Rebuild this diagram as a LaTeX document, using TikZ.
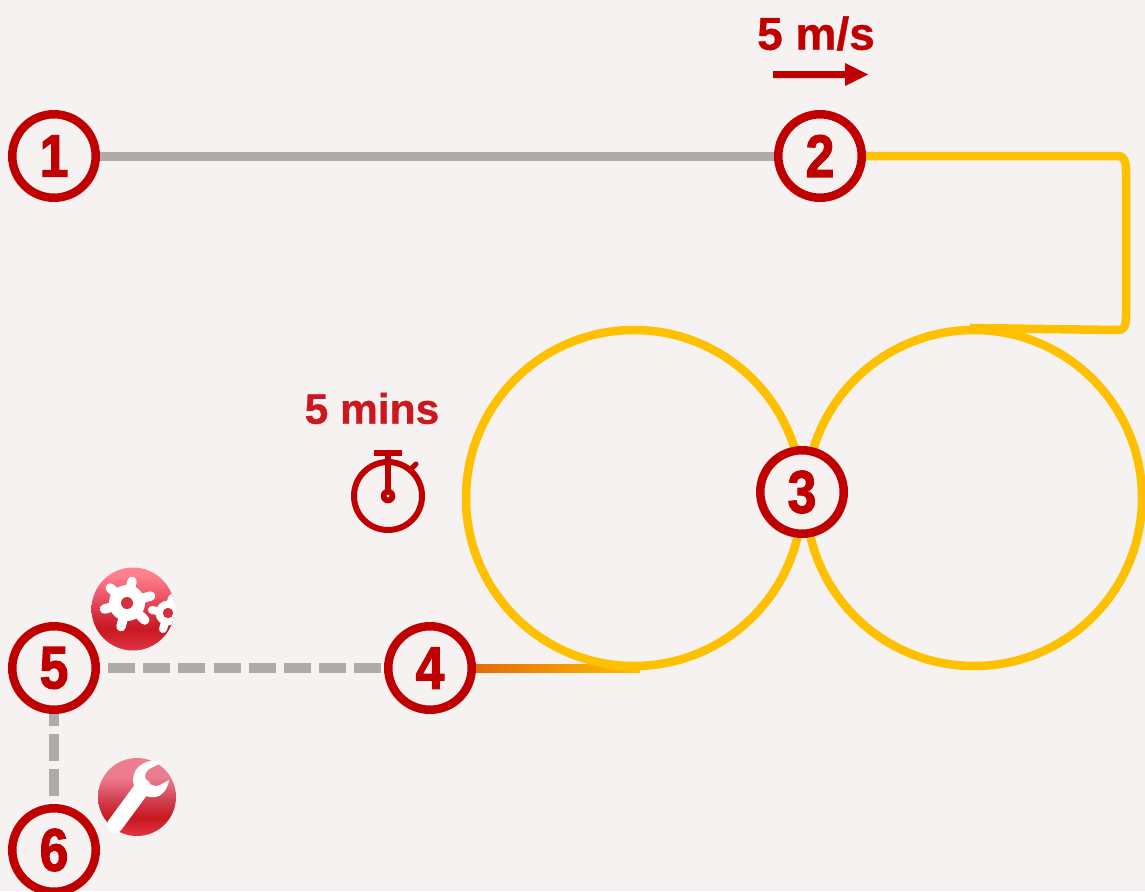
\documentclass[tikz,border=0pt]{standalone}
\usepackage{fontspec}
\setmainfont{Liberation Sans}
\newfontfamily\numfont[FakeStretch=0.86,BoldFeatures={FakeStretch=0.86,FakeBold=2}]{Liberation Sans}
\newfontfamily\labelfont[BoldFeatures={FakeBold=0.8}]{Liberation Sans}
\definecolor{bgc}{HTML}{F6F2F1}
\definecolor{redc}{HTML}{C00000}
\definecolor{labelred}{HTML}{CB171E}
\definecolor{greyc}{HTML}{AFABAB}
\definecolor{yel}{HTML}{FFC000}
\definecolor{orangec}{HTML}{E36C09}
\definecolor{icbot}{HTML}{E03545}
\definecolor{icdark}{HTML}{C8181F}
\definecolor{icmid}{HTML}{D02030}
\definecolor{gearup}{HTML}{FF7F8E}
\definecolor{geartop}{HTML}{FF8392}
\definecolor{wrmid}{HTML}{D04050}
\definecolor{wrup}{HTML}{EC7A8C}
\definecolor{wrtop}{HTML}{EC7F90}
\definecolor{hole}{HTML}{D43040}
\pgfdeclareverticalshading{gearshade}{100bp}{
  color(0bp)=(icbot); color(25bp)=(icbot); color(38bp)=(icdark); color(42bp)=(icmid);
  color(70bp)=(gearup); color(75bp)=(geartop); color(100bp)=(geartop)}
\pgfdeclareverticalshading{wrenchshade}{100bp}{
  color(0bp)=(icbot); color(25bp)=(icbot); color(37bp)=(icdark); color(48bp)=(wrmid);
  color(62bp)=(wrup); color(75bp)=(wrtop); color(100bp)=(wrtop)}
\pgfdeclarelayer{under}
\pgfsetlayers{under,main}
\tikzset{
  x=1pt,y=-1pt,
  stopnode/.style={circle,draw=redc,line width=8.5pt,fill=bgc,minimum size=83.5pt,inner sep=0pt,
    text=redc,font=\numfont\bfseries\fontsize{60}{60}\selectfont},
  solidgrey/.style={draw=greyc,line width=9pt},
  dashgrey/.style={draw=greyc,line width=10pt,dash pattern=on 27pt off 8.2pt},
  track/.style={draw=yel,line width=8.5pt},
  iconwhite/.style={fill=white,draw=none},
  spoke/.style={draw=white,line width=9.5pt,line cap=round},
  smallspoke/.style={draw=white,line width=8pt,line cap=round},
  watch/.style={draw=redc,line width=6pt},
  biglabel/.style={font=\labelfont\bfseries\fontsize{46}{46}\selectfont,text=redc,inner sep=0pt},
  minlabel/.style={font=\labelfont\bfseries\fontsize{42.5}{43}\selectfont,text=labelred,inner sep=0pt}
}
\begin{document}
\begin{tikzpicture}
\useasboundingbox (0,0) rectangle (1145,891);
\clip (0,0) rectangle (1145,891);

\coordinate (c1) at (634,498);
\coordinate (c2) at (974,498);
\coordinate (loopend) at (970,328);
\coordinate (trackend) at (640,672);

\node[stopnode] (n1) at (54,156) {1};
\node[stopnode] (n2) at (820,156) {2};
\node[stopnode] (n3) at (802,492) {3};
\node[stopnode] (n4) at (430,668) {4};
\node[stopnode] (n5) at (54,668) {5};
\node[stopnode] (n6) at (54,850) {6};

\begin{pgfonlayer}{under}
\fill[bgc] (0,0) rectangle (1145,891);
\draw[solidgrey] (n1.east) -- (n2.west);
\draw[dashgrey,shorten <=8pt] (n5.east) -- (n4.west);
\draw[dashgrey,shorten <=8pt] (n6.north) -- (n5.south);
\shade[left color=orangec,right color=yel] ([yshift=4pt]n4.east) rectangle (trackend);
\draw[track,line join=round] (n2.east) -- (1117,156)
   .. controls (1124,156) and (1126,160) .. (1126,172)
   -- (1126,315)
   .. controls (1126,327) and (1124,330) .. (1117,330)
   -- (loopend);
\draw[track] (c1) circle[radius=168];
\draw[track] (c2) circle[radius=168];
\end{pgfonlayer}

% speed label
\node[biglabel] (speed) at (816,33.5) {5 m/s};
\fill[redc] (773,71) -- (845,71) -- (845,63) -- (868,74.5) -- (845,86) -- (845,78) -- (773,78) -- cycle;

% timer label and stopwatch
\node[minlabel] (mins) at (372,408.5) {5 mins};
\draw[watch] (388,496) circle[radius=34];
\fill[redc] (374,450) rectangle (402,456);
\fill[redc] (384.7,453) rectangle (391.3,496);
\fill[redc] (388,496) circle[radius=7.3];
\fill[bgc] (388,496) circle[radius=1.7];
\draw[watch,line width=5pt,line cap=round] (412,468) -- (416,464);

% gear icon
\begin{scope}
  \clip (133,609) circle[radius=41.5];
  \shade[shading=gearshade] (133,609) circle[radius=41.5];
  \foreach \ex/\ey in {132/581.4,110.3/588,150.6/596,104.4/609,144.7/620,121/626.6}
    \draw[spoke] (127,603) -- (\ex,\ey);
  \fill[iconwhite] (127,603) circle[radius=18];
  \fill[hole] (127,603) circle[radius=6];
  \foreach \ex/\ey in {152/610,172/598,163/629,178/605}
    \draw[smallspoke] (168,613) -- (\ex,\ey);
  \fill[iconwhite] (168,613) circle[radius=12.5];
  \fill[hole] (168,613) circle[radius=5.2];
\end{scope}

% wrench icon
\begin{scope}
  \shade[shading=wrenchshade] (137,797) circle[radius=39];
  \draw[draw=white,line width=16pt,line cap=round] (115,825) -- (143,787);
  \fill[iconwhite] (163,762)
    .. controls (148,757) and (133,766) .. (133,780)
    .. controls (133,792) and (145,798) .. (155,797)
    .. controls (163,796) and (168,788) .. (169,780)
    -- (160,785)
    .. controls (153,788) and (146,783) .. (145,777)
    .. controls (145,772) and (148,769) .. (153,767)
    -- cycle;
\end{scope}
\end{tikzpicture}
\end{document}
